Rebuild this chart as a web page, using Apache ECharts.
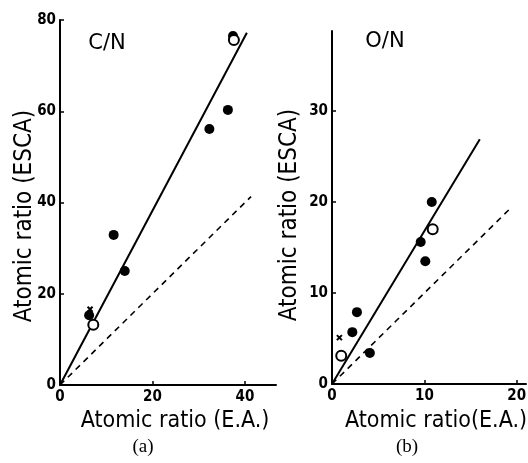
<!DOCTYPE html>
<html>
<head>
<meta charset="utf-8">
<script src="https://cdn.jsdelivr.net/npm/echarts@6/dist/echarts.min.js"></script>
<style>html,body{margin:0;padding:0;background:#fff}#c{width:528px;height:463px}</style>
</head>
<body>
<div id="c"></div>
<script>
// Panel (a) C/N
const cnFilledX = [6.3, 11.6, 14.0, 32.3, 36.3, 37.4];
const cnFilledY = [15.3, 32.9, 25.0, 56.1, 60.3, 76.5];
const cnOpenX = [7.2, 37.6];
const cnOpenY = [13.2, 75.6];
const cnCrossX = [6.5];
const cnCrossY = [16.6];
const cnFitX = [0, 40.4];
const cnFitY = [0, 77.2];
const cnEqualX = [0, 41.3];
const cnEqualY = [0, 41.3];
const cnXTicks = [0, 20, 40];
const cnYTicks = [0, 20, 40, 60, 80];

// Panel (b) O/N
const onFilledX = [2.2, 2.7, 4.1, 9.6, 10.1, 10.8];
const onFilledY = [5.7, 7.9, 3.4, 15.6, 13.5, 20.0];
const onOpenX = [1.0, 10.9];
const onOpenY = [3.1, 17.0];
const onCrossX = [0.8];
const onCrossY = [5.1];
const onFitX = [0, 16.0];
const onFitY = [0, 26.9];
const onEqualX = [0, 19.5];
const onEqualY = [0, 19.5];
const onXTicks = [0, 10, 20];
const onYTicks = [0, 10, 20, 30];

const zip = (xs, ys) => xs.map((x, i) => [x, ys[i]]);
const FONT = '"DejaVu Sans Condensed", "DejaVu Sans"';

function axis(min, max, interval, ticks, gridIndex, margin) {
  return {
    type: 'value', gridIndex, min, max, interval,
    axisLine: { show: true, lineStyle: { color: '#000', width: 2 } },
    axisTick: { show: true, inside: true, length: 4, lineStyle: { color: '#000', width: 1.5 } },
    splitLine: { show: false },
    axisLabel: {
      color: '#000', fontFamily: FONT, fontSize: 15, fontWeight: 'bold', margin: margin,
      showMaxLabel: ticks.indexOf(max) >= 0,
      formatter: v => (ticks.indexOf(v) >= 0 ? String(v) : '')
    }
  };
}

const filled = (xs, ys, xi) => ({
  type: 'scatter', xAxisIndex: xi, yAxisIndex: xi, data: zip(xs, ys),
  symbol: 'circle', symbolSize: 10, itemStyle: { color: '#000', opacity: 1 }, z: 5
});
const open = (xs, ys, xi) => ({
  type: 'scatter', xAxisIndex: xi, yAxisIndex: xi, data: zip(xs, ys),
  symbol: 'circle', symbolSize: 10, itemStyle: { color: '#fff', borderColor: '#000', borderWidth: 2, opacity: 1 }, z: 6
});
const cross = (xs, ys, xi) => ({
  type: 'scatter', xAxisIndex: xi, yAxisIndex: xi, data: zip(xs, ys),
  symbol: 'path://M0,0L10,10M10,0L0,10', symbolSize: 5,
  itemStyle: { color: 'none', borderColor: '#000', borderWidth: 2, opacity: 1 }, z: 4
});
const line = (xs, ys, xi, dashed) => ({
  type: 'line', xAxisIndex: xi, yAxisIndex: xi, data: zip(xs, ys),
  showSymbol: false, symbol: 'none',
  lineStyle: dashed ? { color: '#000', width: 1.6, type: [6, 5] } : { color: '#000', width: 2 },
  z: 3
});

const chart = echarts.init(document.getElementById('c'));
chart.setOption({
  backgroundColor: '#fff',
  animation: false,
  grid: [
    { left: 60, top: 20, width: 216, height: 365, containLabel: false, outerBoundsMode: 'none' },
    { left: 332, top: 31, width: 194, height: 353, containLabel: false, outerBoundsMode: 'none' }
  ],
  xAxis: [axis(0, 46.7, 20, cnXTicks, 0, 5), axis(0, 21, 10, onXTicks, 1, 5)],
  yAxis: [axis(0, 80, 20, cnYTicks, 0, 4), axis(0, 38.8, 10, onYTicks, 1, 4)],
  series: [
    line(cnFitX, cnFitY, 0, false),
    line(cnEqualX, cnEqualY, 0, true),
    filled(cnFilledX, cnFilledY, 0),
    open(cnOpenX, cnOpenY, 0),
    cross(cnCrossX, cnCrossY, 0),
    line(onFitX, onFitY, 1, false),
    line(onEqualX, onEqualY, 1, true),
    filled(onFilledX, onFilledY, 1),
    open(onOpenX, onOpenY, 1),
    cross(onCrossX, onCrossY, 1)
  ],
  graphic: [
    { type: 'text', x: 107, y: 44, style: { text: 'C/N', font: '21px "DejaVu Sans"', fill: '#000', align: 'center', verticalAlign: 'middle' } },
    { type: 'text', x: 385, y: 42, style: { text: 'O/N', font: '21px "DejaVu Sans"', fill: '#000', align: 'center', verticalAlign: 'middle' } },
    { type: 'text', x: 25, y: 216, rotation: Math.PI / 2, style: { text: 'Atomic ratio (ESCA)', font: '24px "DejaVu Sans Condensed", "DejaVu Sans"', fill: '#000', align: 'center', verticalAlign: 'middle' } },
    { type: 'text', x: 290, y: 215, rotation: Math.PI / 2, style: { text: 'Atomic ratio (ESCA)', font: '24px "DejaVu Sans Condensed", "DejaVu Sans"', fill: '#000', align: 'center', verticalAlign: 'middle' } },
    { type: 'text', x: 175, y: 421, style: { text: 'Atomic ratio (E.A.)', font: '23px "DejaVu Sans Condensed", "DejaVu Sans"', fill: '#000', align: 'center', verticalAlign: 'middle' } },
    { type: 'text', x: 436, y: 421, style: { text: 'Atomic ratio(E.A.)', font: '23px "DejaVu Sans Condensed", "DejaVu Sans"', fill: '#000', align: 'center', verticalAlign: 'middle' } },
    { type: 'text', x: 143, y: 447, style: { text: '(a)', font: '19px "Liberation Serif"', fill: '#000', align: 'center', verticalAlign: 'middle' } },
    { type: 'text', x: 407, y: 447, style: { text: '(b)', font: '19px "Liberation Serif"', fill: '#000', align: 'center', verticalAlign: 'middle' } }
  ]
});
</script>
</body>
</html>
